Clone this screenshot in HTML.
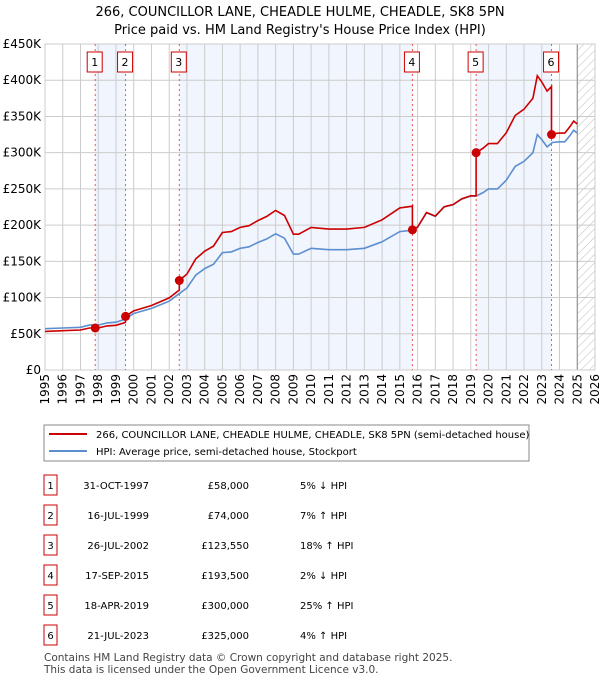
<!DOCTYPE html>
<html><head><meta charset="utf-8"><style>
body{margin:0;background:#fff;font-family:"DejaVu Sans","Liberation Sans",sans-serif;}
svg text{font-family:"DejaVu Sans","Liberation Sans",sans-serif;}
</style></head><body>
<svg id="c" width="600" height="680" viewBox="0 0 600 680" xmlns="http://www.w3.org/2000/svg">
<defs><pattern id="hatch" width="6" height="6" patternUnits="userSpaceOnUse" patternTransform="rotate(45)"><line x1="0" y1="0" x2="0" y2="6" stroke="#bbb" stroke-width="1"/></pattern></defs>
<text x="300" y="16" text-anchor="middle" font-size="13">266, COUNCILLOR LANE, CHEADLE HULME, CHEADLE, SK8 5PN</text>
<text x="300" y="34" text-anchor="middle" font-size="13">Price paid vs. HM Land Registry's House Price Index (HPI)</text>
<g id="plot"></g>
<g>
<rect x="44" y="425" width="485" height="36" fill="#fff" stroke="#888"/>
<line x1="49" y1="434" x2="87" y2="434" stroke="#cc0000" stroke-width="2"/>
<text x="96" y="438" font-size="10">266, COUNCILLOR LANE, CHEADLE HULME, CHEADLE, SK8 5PN (semi-detached house)</text>
<line x1="49" y1="451" x2="87" y2="451" stroke="#5b8fd0" stroke-width="2"/>
<text x="96" y="455" font-size="10">HPI: Average price, semi-detached house, Stockport</text>
</g>
<g id="table"></g>
<text x="44" y="661" font-size="10.5" fill="#444">Contains HM Land Registry data © Crown copyright and database right 2025.</text>
<text x="44" y="673" font-size="10.5" fill="#444">This data is licensed under the Open Government Licence v3.0.</text>
</svg>
<script>
const hpiYears=[1995,1996,1997,1997.5,1998,1998.5,1999,1999.5,2000,2001,2002,2002.6,2003,2003.5,2004,2004.5,2005,2005.5,2006,2006.5,2007,2007.5,2008,2008.5,2009,2009.3,2010,2011,2012,2013,2014,2015,2015.7,2016,2016.5,2017,2017.5,2018,2018.5,2019,2019.3,2019.7,2020,2020.5,2021,2021.5,2022,2022.5,2022.75,2023,2023.3,2023.6,2024,2024.3,2024.6,2024.8,2025];
const hpiValues=[57,58,59,62,62,65,66,70,78,85,95,106,113,131,140,146,162,163,168,170,176,181,188,182,160,160,168,166,166,168,177,191,193,197,217,212,225,228,236,240,240,245,250,250,262,281,288,300,325,318,308,314,315,315,324,331,327];
const saleLabels=["1","2","3","4","5","6"];
const saleDates=["31-OCT-1997","16-JUL-1999","26-JUL-2002","17-SEP-2015","18-APR-2019","21-JUL-2023"];
const saleYears=[1997.83,1999.54,2002.57,2015.71,2019.3,2023.55];
const salePrices=[58000,74000,123550,193500,300000,325000];
const salePriceText=["£58,000","£74,000","£123,550","£193,500","£300,000","£325,000"];
const saleHpiText=["5% ↓ HPI","7% ↑ HPI","18% ↑ HPI","2% ↓ HPI","25% ↑ HPI","4% ↑ HPI"];
const yTicks=[0,50,100,150,200,250,300,350,400,450];
const yTickLabels=["£0","£50K","£100K","£150K","£200K","£250K","£300K","£350K","£400K","£450K"];
const xTicks=[1995,1996,1997,1998,1999,2000,2001,2002,2003,2004,2005,2006,2007,2008,2009,2010,2011,2012,2013,2014,2015,2016,2017,2018,2019,2020,2021,2022,2023,2024,2025,2026];
const dataEnd=2025.0;

const NS="http://www.w3.org/2000/svg";
const X0=45,X1=595,Y0=370,Y1=44;
const xs=t=>X0+(t-1995)/(2026-1995)*(X1-X0);
const ys=v=>Y0-v/450*(Y0-Y1);
function mk(tag,attrs,parent){const e=document.createElementNS(NS,tag);for(const k in attrs)e.setAttribute(k,attrs[k]);parent.appendChild(e);return e;}
function hpiAt(t){if(t<=hpiYears[0])return hpiValues[0];for(let i=1;i<hpiYears.length;i++){if(t<=hpiYears[i]){const f=(t-hpiYears[i-1])/(hpiYears[i]-hpiYears[i-1]);return hpiValues[i-1]+f*(hpiValues[i]-hpiValues[i-1]);}}return hpiValues[hpiValues.length-1];}
const plot=document.getElementById('plot');
for(let i=0;i<saleYears.length;i+=2){
 const a=saleYears[i],b=i+1<saleYears.length?saleYears[i+1]:dataEnd;
 const r=mk('rect',{x:xs(a),y:Y1,width:xs(b)-xs(a),height:Y0-Y1,fill:'#f1f5fd'},plot);
 
 
}
const h=mk('rect',{x:xs(dataEnd),y:Y1,width:X1-xs(dataEnd),height:Y0-Y1,fill:'url(#hatch)'},plot);


yTicks.forEach((v,i)=>{
 mk('line',{x1:X0,x2:X1,y1:ys(v),y2:ys(v),stroke:'#ccc','stroke-width':1},plot);
 const t=mk('text',{x:X0-4,y:ys(v)+4,'text-anchor':'end','font-size':12},plot);t.textContent=yTickLabels[i];
 
 
});
xTicks.forEach(yr=>{
 mk('line',{x1:xs(yr),x2:xs(yr),y1:Y1,y2:Y0,stroke:'#ccc','stroke-width':1},plot);
 const t=mk('text',{x:0,y:0,'text-anchor':'end','font-size':12,transform:`translate(${xs(yr)+4},${Y0+4}) rotate(-90)`},plot);t.textContent=yr;
 
 
});
mk('line',{x1:xs(dataEnd),x2:xs(dataEnd),y1:Y1,y2:Y0,stroke:'#888','stroke-width':1},plot);
mk('rect',{x:X0,y:Y1,width:X1-X0,height:Y0-Y1,fill:'none',stroke:'#ccc'},plot);
saleYears.forEach((s,i)=>{
 mk('line',{x1:xs(s),x2:xs(s),y1:Y1,y2:Y0,stroke:'#e55','stroke-width':1,'stroke-dasharray':'2,3'},plot);
});
let pts=hpiYears.map((t,i)=>xs(t).toFixed(1)+','+ys(hpiValues[i]).toFixed(1));
const hl=mk('polyline',{points:pts.join(' '),fill:'none',stroke:'#5b8fd0','stroke-width':1.6},plot);


const sh=saleYears.map(hpiAt);
function seg(t){let k=0;for(let i=0;i<saleYears.length;i++)if(t>=saleYears[i])k=i;return k;}
let rp=[];
const ts=[...hpiYears,...saleYears].sort((a,b)=>a-b);
ts.forEach(t=>{
 const k=seg(t);
 if(saleYears.includes(t)&&t>saleYears[0]){const kp=k-1;rp.push([t,salePrices[kp]/1000*hpiAt(t)/sh[kp]]);}
 rp.push([t,salePrices[k]/1000*hpiAt(t)/sh[k]]);
});
const rl=mk('polyline',{points:rp.map(p=>xs(p[0]).toFixed(1)+','+ys(p[1]).toFixed(1)).join(' '),fill:'none',stroke:'#cc0000','stroke-width':1.6},plot);


saleYears.forEach((s,i)=>{
 const c=mk('circle',{cx:xs(s),cy:ys(salePrices[i]/1000),r:4.5,fill:'#cc0000'},plot);
 
 
 const b=mk('rect',{x:xs(s)-8,y:52,width:15,height:20,fill:'#fff',stroke:'#cc0000'},plot);
 
 
 const t=mk('text',{x:xs(s)-0.5,y:66,'text-anchor':'middle','font-size':11},plot);t.textContent=saleLabels[i];
});
const tb=document.getElementById('table');
const rowY=[485,515,545,575,605,635];
saleLabels.forEach((l,i)=>{
 const y=rowY[i];
 const b=mk('rect',{x:44,y:y-10,width:13,height:20,fill:'#fff',stroke:'#cc0000'},tb);
 
 
 let t=mk('text',{x:50.5,y:y+4,'text-anchor':'middle','font-size':10},tb);t.textContent=l;
 t=mk('text',{x:149,y:y+4,'text-anchor':'end','font-size':10},tb);t.textContent=saleDates[i];
 
 
 t=mk('text',{x:249,y:y+4,'text-anchor':'end','font-size':10},tb);t.textContent=salePriceText[i];
 
 
 t=mk('text',{x:300,y:y+4,'font-size':10},tb);t.textContent=saleHpiText[i];
 
 
});
</script>
</body></html>
